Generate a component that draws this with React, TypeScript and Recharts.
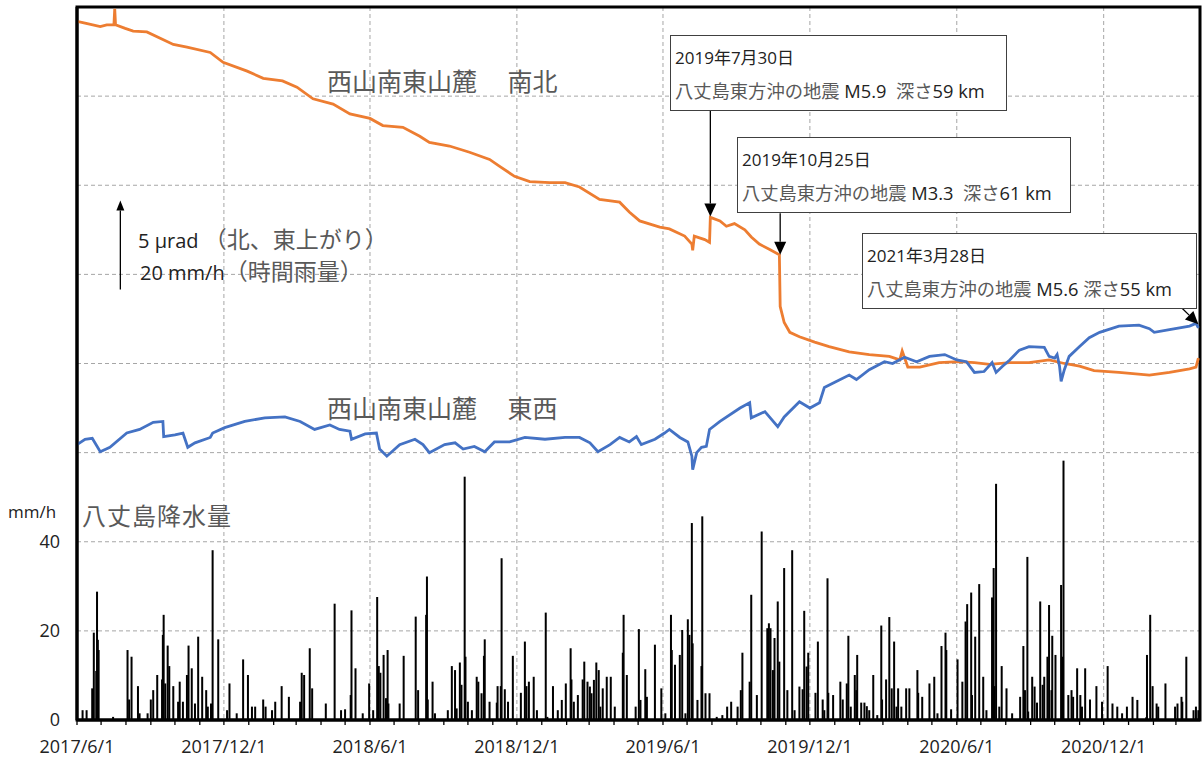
import React from 'react';
import { ComposedChart, Bar, Line, XAxis, YAxis, CartesianGrid, ReferenceLine, ReferenceArea } from 'recharts';

const FONT = "'Open Sans', 'Noto Sans CJK JP', sans-serif";
const JP = "'Noto Sans CJK JP', sans-serif";
const GRAY = '#595959';
const INK = '#222';

// x = days counted from 2017/6/1
const START = Date.UTC(2017, 5, 1);
const DAY_MS = 86400000;
const END_DAY = 1399;

const gridLabels = ['2017/6/1', '2017/12/1', '2018/6/1', '2018/12/1', '2019/6/1', '2019/12/1', '2020/6/1', '2020/12/1'];

// 西山南東山麓 南北 tilt (µrad, relative)
const nsDay = [0, 10, 29, 37, 46, 47, 48, 60, 70, 87, 120, 137, 166, 182, 212, 232, 256, 274, 294, 319, 340, 365, 381, 406, 427, 439, 464, 489, 514, 527, 545, 564, 589, 608, 626, 651, 676, 688, 701, 726, 738, 757, 766, 767, 769, 782, 788, 789, 801, 809, 819, 832, 840, 850, 863, 875, 876, 881, 888, 900, 919, 937, 962, 987, 1012, 1025, 1028, 1035, 1050, 1074, 1099, 1118, 1137, 1162, 1186, 1211, 1230, 1249, 1267, 1298, 1336, 1361, 1386, 1394, 1397];
const nsTilt = [39.2, 39.1, 38.9, 39.0, 39.0, 39.9, 39.0, 38.8, 38.65, 38.6, 37.9, 37.75, 37.45, 36.9, 36.4, 36.0, 35.85, 35.5, 34.85, 34.55, 34.0, 33.75, 33.35, 33.25, 32.75, 32.4, 32.2, 31.85, 31.45, 31.05, 30.5, 30.2, 30.15, 30.15, 29.9, 29.2, 29.05, 28.5, 28.0, 27.65, 27.55, 27.15, 26.7, 26.35, 27.15, 26.95, 26.8, 28.2, 28.0, 27.7, 27.85, 27.5, 27.1, 26.7, 26.4, 26.1, 23.2, 22.3, 21.75, 21.5, 21.2, 20.95, 20.65, 20.5, 20.4, 20.2, 20.7, 19.8, 19.8, 20.05, 20.1, 20.05, 19.95, 20.05, 20.05, 20.2, 20.0, 19.85, 19.6, 19.5, 19.35, 19.5, 19.7, 19.8, 20.3];

// 西山南東山麓 東西 tilt
const ewDay = [0, 10, 19, 29, 41, 62, 78, 95, 107, 108, 122, 132, 138, 147, 166, 169, 184, 209, 234, 259, 278, 296, 315, 327, 340, 342, 359, 373, 377, 386, 402, 421, 431, 439, 458, 471, 481, 495, 508, 520, 539, 558, 583, 608, 626, 639, 649, 664, 676, 688, 697, 703, 720, 732, 738, 751, 761, 766, 767, 772, 778, 784, 788, 801, 826, 838, 840, 857, 873, 881, 900, 913, 925, 931, 944, 962, 971, 987, 1006, 1016, 1031, 1046, 1062, 1081, 1096, 1108, 1118, 1130, 1140, 1145, 1153, 1162, 1174, 1186, 1205, 1211, 1218, 1221, 1224, 1226, 1230, 1236, 1249, 1261, 1274, 1298, 1323, 1336, 1342, 1361, 1386, 1394, 1397];
const ewTilt = [15.45, 15.75, 15.8, 15.05, 15.3, 16.1, 16.3, 16.7, 16.75, 15.9, 16.0, 16.1, 15.3, 15.55, 15.85, 16.1, 16.4, 16.75, 16.95, 17.0, 16.75, 16.3, 16.55, 16.3, 16.2, 15.75, 16.05, 16.1, 15.2, 14.8, 15.45, 15.75, 15.45, 15.0, 15.45, 15.55, 15.2, 15.35, 15.05, 15.6, 15.6, 15.85, 15.75, 15.85, 15.85, 15.55, 15.05, 15.45, 15.85, 15.6, 15.9, 15.45, 15.75, 16.1, 16.3, 15.85, 15.6, 14.8, 14.05, 15.0, 15.3, 15.35, 16.3, 16.75, 17.5, 17.8, 16.95, 17.3, 16.45, 17.0, 17.85, 17.5, 17.8, 18.65, 18.95, 19.35, 19.1, 19.65, 20.1, 20.0, 20.35, 20.1, 20.4, 20.5, 20.2, 20.1, 19.5, 19.55, 20.05, 19.5, 19.85, 20.2, 20.75, 20.95, 20.9, 20.4, 20.3, 20.5, 19.85, 19.0, 19.65, 20.4, 20.95, 21.45, 21.75, 22.1, 22.15, 21.95, 21.75, 21.9, 22.1, 22.25, 22.0];

// 八丈島降水量 [day, mm/h]
const rain: [number, number][] = [
  [7, 2.2], [12, 2.2], [19, 7.1], [21, 19.6], [24, 11], [25, 28.8], [26, 18], [27, 15.7], [45, 0.7], [63, 15.7], [65, 4.6], [68, 14.2],
  [76, 7.6], [78, 1.5], [88, 1.5], [92, 4.6], [95, 6.7], [100, 10.1], [106, 9.1], [107, 19.1], [108, 23.6], [110, 8.2], [113, 16.7],
  [115, 12.1], [120, 7.6], [126, 4.1], [128, 8.6], [132, 4.1], [137, 10.1], [139, 16.7], [143, 11.6], [147, 3.7], [151, 18.7], [156, 9.7],
  [161, 6.7], [163, 3.0], [167, 3.7], [169, 38.1], [176, 18.1], [187, 2.2], [190, 8.2], [199, 1.5], [207, 13.6], [213, 10.1], [218, 3.0],
  [222, 3.0], [232, 4.6], [235, 3.0], [243, 2.2], [247, 4.1], [255, 7.6], [264, 5.2], [278, 4.1], [280, 10.6], [283, 10.1], [290, 16.1],
  [293, 7.1], [310, 3.7], [321, 26.1], [329, 2.2], [334, 2.4], [341, 5.6], [342, 24.6], [347, 11.6], [356, 1.5], [364, 8.2], [369, 2.2],
  [374, 27.6], [376, 12.1], [378, 10.6], [382, 14.6], [385, 4.9], [387, 15.7], [388, 3.7], [402, 3.7], [407, 14.4], [422, 23.2], [425, 6.7],
  [435, 23.6], [436, 32.2], [437, 4.6], [443, 8.6], [446, 1.5], [462, 2.2], [467, 12.1], [471, 11.2], [473, 2.6], [477, 12.9], [479, 7.9],
  [483, 54.6], [484, 14.2], [487, 4.1], [492, 2.2], [498, 9.7], [500, 8.6], [504, 6.0], [507, 14.4], [508, 18.1], [514, 4.1], [523, 3.9],
  [524, 7.6], [528, 7.6], [529, 36.3], [533, 6.9], [537, 4.1], [543, 14.4], [553, 6.1], [558, 17.6], [560, 7.6], [563, 8.6], [569, 9.7],
  [573, 2.2], [584, 24.1], [586, 0.7], [593, 7.6], [599, 2.2], [604, 4.5], [609, 8.2], [615, 16.1], [616, 9.1], [619, 4.1], [624, 5.6],
  [630, 9.1], [632, 13.1], [636, 8.6], [639, 7.5], [641, 6.0], [644, 9.0], [647, 12.9], [650, 11.2], [652, 3.0], [655, 7.1], [660, 9.7],
  [665, 9.7], [670, 3.0], [680, 15.1], [681, 23.6], [685, 10.1], [696, 3.0], [700, 20.4], [702, 4.5], [708, 11.4], [710, 5.2], [720, 16.9],
  [728, 7.1], [733, 1.5], [740, 23.6], [741, 15.7], [745, 12.4], [751, 14.6], [754, 20.2], [758, 1.5], [761, 22.6], [763, 19.1], [766, 44.2],
  [767, 17.2], [773, 4.5], [778, 12.1], [779, 45.7], [783, 6.0], [788, 6.0], [797, 0.7], [804, 1.1], [810, 3.0], [815, 4.1], [823, 3.0],
  [827, 6.7], [829, 15.1], [838, 8.6], [840, 28.1], [847, 5.6], [853, 42.3], [860, 20.6], [862, 21.7], [864, 20.6], [867, 11.2], [869, 18.4],
  [873, 26.6], [875, 13.1], [881, 34.1], [885, 6.7], [891, 38.1], [894, 2.2], [900, 7.5], [904, 6.9], [906, 24.5], [909, 12.0], [911, 15.1],
  [920, 6.1], [923, 17.6], [929, 4.6], [931, 2.2], [935, 31.8], [936, 6.1], [942, 5.6], [951, 8.6], [954, 4.6], [959, 8.2], [961, 18.9],
  [964, 3.0], [969, 10.1], [971, 6.7], [972, 14.6], [977, 3.9], [981, 3.9], [984, 3.1], [987, 2.2], [992, 10.1], [997, 1.1], [1002, 21.2],
  [1003, 4.6], [1008, 9.1], [1012, 23.1], [1015, 7.1], [1018, 17.6], [1021, 3.0], [1023, 7.1], [1027, 3.0], [1033, 7.1], [1037, 7.1],
  [1047, 11.2], [1048, 6.1], [1053, 5.2], [1062, 8.2], [1068, 9.7], [1072, 1.5], [1077, 16.6], [1082, 19.6], [1083, 15.7], [1089, 2.4],
  [1097, 13.6], [1103, 8.6], [1107, 22.1], [1109, 26.0], [1114, 28.6], [1115, 5.6], [1119, 18.7], [1124, 30.5], [1129, 9.7], [1133, 2.2],
  [1140, 27.5], [1142, 34.1], [1143, 7.6], [1145, 53.0], [1149, 3.0], [1152, 12.1], [1158, 7.1], [1165, 1.5], [1175, 5.2], [1179, 16.6],
  [1181, 6.7], [1184, 36.6], [1185, 1.9], [1190, 9.7], [1193, 7.5], [1196, 3.9], [1200, 26.6], [1203, 7.9], [1205, 9.7], [1209, 14.2],
  [1211, 25.8], [1214, 6.7], [1215, 18.9], [1219, 14.6], [1226, 30.3], [1228, 14.2], [1229, 58.2], [1235, 5.6], [1239, 6.7], [1241, 5.2],
  [1246, 11.6], [1250, 5.6], [1252, 3.0], [1256, 11.6], [1262, 4.6], [1270, 7.6], [1277, 4.1], [1284, 12.1], [1290, 3.7], [1296, 3.0],
  [1302, 1.5], [1308, 3.0], [1315, 5.2], [1321, 4.5], [1332, 0.6], [1333, 14.6], [1337, 23.6], [1340, 7.6], [1345, 3.7], [1347, 3.0],
  [1356, 8.2], [1368, 3.0], [1371, 3.7], [1376, 5.2], [1377, 4.1], [1382, 14.2], [1391, 2.2], [1394, 3.0], [1397, 2.2],
];

const toDay = (s: string) => {
  const [y, m, d] = s.split('/').map(Number);
  return Math.round((Date.UTC(y, m - 1, d) - START) / DAY_MS);
};
const gridDays = gridLabels.map(toDay);
const monthTicks: number[] = [];
for (let i = 0; i < 46; i++) monthTicks.push(Math.round((Date.UTC(2017, 5 + i, 1) - START) / DAY_MS));

const fmtTick = (d: number) => {
  const dt = new Date(START + d * DAY_MS);
  const m = dt.getUTCMonth() + 1;
  return m === 6 || m === 12 ? `${dt.getUTCFullYear()}/${m}/1` : '';
};

// merge everything into one table keyed by day
const rows = new Map<number, any>();
const put = (d: number, key: string, v: number) => {
  const r = rows.get(d) ?? { day: d };
  r[key] = key === 'rain' ? Math.max(r.rain ?? 0, v) : v;
  rows.set(d, r);
};
nsDay.forEach((d, i) => put(d, 'ns', nsTilt[i]));
ewDay.forEach((d, i) => put(d, 'ew', ewTilt[i]));
rain.forEach(([d, v]) => put(d, 'rain', v));
const data = [...rows.values()].sort((a, b) => a.day - b.day);

const Arrow = (props: any) => {
  const { x1, y1, x2, y2 } = props;
  const a = Math.atan2(y2 - y1, x2 - x1);
  const L = props.small ? 10 : 13;
  const W = props.small ? 4 : 6;
  const bx = x2 - L * Math.cos(a);
  const by = y2 - L * Math.sin(a);
  const px = -Math.sin(a) * W;
  const py = Math.cos(a) * W;
  return (
    <g>
      <line x1={x1} y1={y1} x2={bx} y2={by} stroke="#000" strokeWidth={1.3} />
      <polygon points={`${x2},${y2} ${bx + px},${by + py} ${bx - px},${by - py}`} fill="#000" />
    </g>
  );
};

// thin black spike for each hourly value
const RainBar = (p: any) => {
  if (!p.height) return null;
  const cx = p.x + p.width / 2;
  return <rect x={cx - 1} y={p.y} width={2} height={p.height} fill="#000" />;
};

const abs = (left: number, top: number, extra: React.CSSProperties = {}): React.CSSProperties => ({
  position: 'absolute', left, top, whiteSpace: 'pre', lineHeight: 1, fontFamily: FONT, ...extra,
});

const QuakeBox = ({ left, top, width, date, mag, depth, sep }: any) => (
  <div style={{ position: 'absolute', left, top, width, height: 76, border: '1.3px solid #404040', background: '#fff', boxSizing: 'border-box' }}>
    <div style={abs(4, 13, { fontSize: 17, color: INK })}>{date}</div>
    <div style={abs(4, 46, { fontSize: 18.3 })}>
      <span style={{ color: GRAY }}>八丈島東方沖の地震 </span>
      <span style={{ color: INK }}>{mag}</span>
      <span style={{ color: GRAY }}>{sep}深さ</span>
      <span style={{ color: INK }}>{depth}</span>
    </div>
  </div>
);

export default function App() {
  return (
    <div style={{ position: 'absolute', left: 0, top: 0, width: 1202, height: 762, background: '#fff' }}>
      <ComposedChart width={1202} height={762} data={data} margin={{ top: 7, right: 2, bottom: 0, left: 0 }}>
        <XAxis
          dataKey="day"
          type="number"
          domain={[0, END_DAY]}
          ticks={monthTicks}
          interval={0}
          tickFormatter={fmtTick}
          height={42}
          tickSize={5}
          tickMargin={15}
          axisLine={{ stroke: '#000', strokeWidth: 3 }}
          tickLine={{ stroke: '#000', strokeWidth: 1.3 }}
          tick={{ fontSize: 18, fill: INK, fontFamily: FONT }}
          allowDataOverflow
        />
        <XAxis xAxisId="grid" dataKey="day" type="number" domain={[0, END_DAY]} ticks={gridDays} hide allowDataOverflow />
        <YAxis
          yAxisId="rain"
          domain={[0, 160]}
          ticks={[0, 20, 40, 60, 80, 100, 120, 140, 160]}
          tickFormatter={(v: number) => (v <= 40 ? String(v) : '')}
          width={77}
          tickSize={0}
          tickMargin={17}
          tickLine={false}
          axisLine={{ stroke: '#000', strokeWidth: 3 }}
          tick={{ fontSize: 18, fill: INK, fontFamily: FONT }}
          interval={0}
        />
        <YAxis yAxisId="tilt" orientation="right" domain={[0, 40]} hide allowDataOverflow />
        <CartesianGrid xAxisId="grid" yAxisId="rain" stroke="#a6a6a6" strokeDasharray="4 3" />
        <Bar yAxisId="rain" dataKey="rain" fill="#000" barSize={2} shape={RainBar} isAnimationActive={false} />
        <Line yAxisId="tilt" dataKey="ns" stroke="#ED7D31" strokeWidth={2.8} dot={false} connectNulls isAnimationActive={false} />
        <Line yAxisId="tilt" dataKey="ew" stroke="#4472C4" strokeWidth={2.8} dot={false} connectNulls isAnimationActive={false} />
        <ReferenceArea yAxisId="rain" x1={0} x2={END_DAY} y1={0} y2={160} fill="none" stroke="#000" strokeWidth={3} />
        <ReferenceLine yAxisId="tilt" segment={[{ x: 54, y: 24.15 }, { x: 54, y: 29.15 }]} shape={(p: any) => <Arrow {...p} small />} />
        <ReferenceLine yAxisId="tilt" segment={[{ x: 789, y: 34.2 }, { x: 789, y: 28.25 }]} shape={(p: any) => <Arrow {...p} />} />
        <ReferenceLine yAxisId="tilt" segment={[{ x: 876, y: 28.43 }, { x: 876, y: 26.1 }]} shape={(p: any) => <Arrow {...p} />} />
        <ReferenceLine yAxisId="tilt" segment={[{ x: 1377, y: 23.09 }, { x: 1397, y: 22.2 }]} shape={(p: any) => <Arrow {...p} />} />
      </ComposedChart>

      <div style={abs(327, 68, { fontSize: 25, color: GRAY, fontFamily: JP })}>西山南東山麓　 南北</div>
      <div style={abs(327, 395, { fontSize: 25, color: GRAY, fontFamily: JP })}>西山南東山麓　 東西</div>
      <div style={abs(82, 503, { fontSize: 24, color: GRAY, fontFamily: JP, letterSpacing: 1 })}>八丈島降水量</div>
      <div style={abs(8, 503, { fontSize: 17, color: INK })}>mm/h</div>
      <div style={abs(138, 227)}>
        <span style={{ fontSize: 20, color: INK }}>5 µrad </span>
        <span style={{ fontSize: 23, color: GRAY, fontFamily: JP }}>（北、東上がり）</span>
      </div>
      <div style={abs(140, 259)}>
        <span style={{ fontSize: 20, color: INK }}>20 mm/h</span>
        <span style={{ fontSize: 23, color: GRAY, fontFamily: JP }}>（時間雨量）</span>
      </div>

      <QuakeBox left={670} top={35} width={337} date="2019年7月30日" mag="M5.9" sep="  " depth="59 km" />
      <QuakeBox left={737} top={137} width={334} date="2019年10月25日" mag="M3.3" sep="  " depth="61 km" />
      <QuakeBox left={862} top={233} width={335} date="2021年3月28日" mag="M5.6" sep=" " depth="55 km" />
    </div>
  );
}
